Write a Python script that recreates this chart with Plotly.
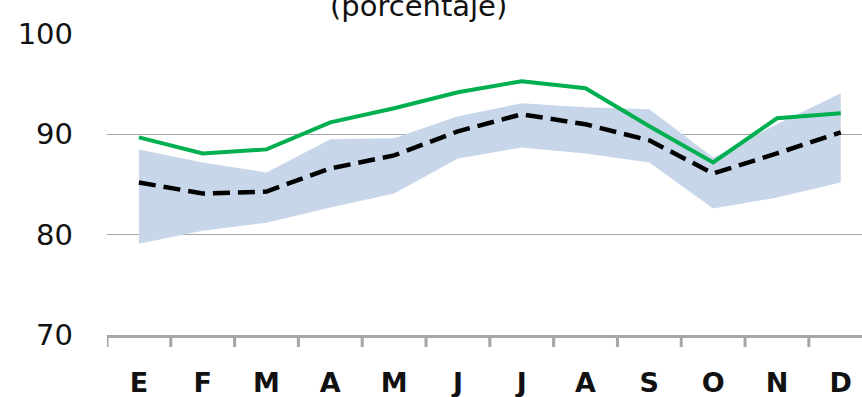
import plotly.graph_objects as go

months = ["E", "F", "M", "A", "M", "J", "J", "A", "S", "O", "N", "D"]
green_values = [89.7, 88.1, 88.5, 91.2, 92.6, 94.2, 95.3, 94.6, 90.8, 87.2, 91.6, 92.1]
dashed_values = [85.2, 84.1, 84.3, 86.6, 87.9, 90.3, 92.0, 91.0, 89.4, 86.1, 88.1, 90.2]
band_upper = [88.5, 87.2, 86.2, 89.5, 89.6, 91.8, 93.1, 92.7, 92.5, 87.7, 91.0, 94.1]
band_lower = [79.1, 80.4, 81.2, 82.7, 84.1, 87.6, 88.7, 88.1, 87.2, 82.6, 83.7, 85.2]
y_ticks = [70, 80, 90, 100]
title_text = "(porcentaje)"

x_idx = list(range(len(months)))

fig = go.Figure()
fig.add_trace(go.Scatter(x=x_idx, y=band_lower, mode="lines", line=dict(width=0),
                         hoverinfo="skip", showlegend=False))
fig.add_trace(go.Scatter(x=x_idx, y=band_upper, mode="lines", line=dict(width=0),
                         fill="tonexty", fillcolor="#c7d6e9", hoverinfo="skip", showlegend=False))
fig.add_trace(go.Scatter(x=x_idx, y=dashed_values, mode="lines",
                         line=dict(color="#000000", width=4.5, dash="17px,8px"), showlegend=False))
fig.add_trace(go.Scatter(x=x_idx, y=green_values, mode="lines",
                         line=dict(color="#00b050", width=4), showlegend=False))

fig.update_layout(
    width=862, height=397,
    margin=dict(l=107, r=0, t=34, b=62, autoexpand=False),
    plot_bgcolor="white", paper_bgcolor="white",
    showlegend=False,
    xaxis=dict(
        range=[-0.5, 11.333], automargin=False,
        tickmode="array", tickvals=x_idx, ticktext=months,
        showgrid=False, zeroline=False,
        showline=True, linecolor="#a6a6a6", linewidth=3,
        ticks="", tickfont=dict(family="DejaVu Sans", size=27, color="#111111", weight="bold"),
        ticklabelstandoff=22,
    ),
    yaxis=dict(
        range=[70, 100], automargin=False,
        tickmode="array", tickvals=y_ticks, ticktext=[str(v) for v in y_ticks],
        showgrid=True, gridcolor="#a6a6a6", gridwidth=1.3,
        zeroline=False, showline=False,
        tickfont=dict(family="DejaVu Sans", size=29, color="#111111"),
        ticklabelstandoff=33,
    ),
    annotations=[dict(
        text=title_text, xref="paper", yref="paper",
        x=(418 - 107) / 755, y=(335 - 6) / 301, xanchor="center", yanchor="middle",
        showarrow=False, font=dict(family="DejaVu Sans", size=29, color="#111111"),
    )],
)

# tick marks at category boundaries
for b in [i - 0.5 for i in range(len(months) + 1)]:
    fig.add_shape(type="line", xref="x", yref="paper", x0=b, x1=b, y0=0, y1=-12 / 301,
                  line=dict(color="#a6a6a6", width=3), layer="above")

fig.write_html("out.html", config={"displayModeBar": False},
               post_script="document.body.style.margin='0';document.body.style.overflow='hidden';")
